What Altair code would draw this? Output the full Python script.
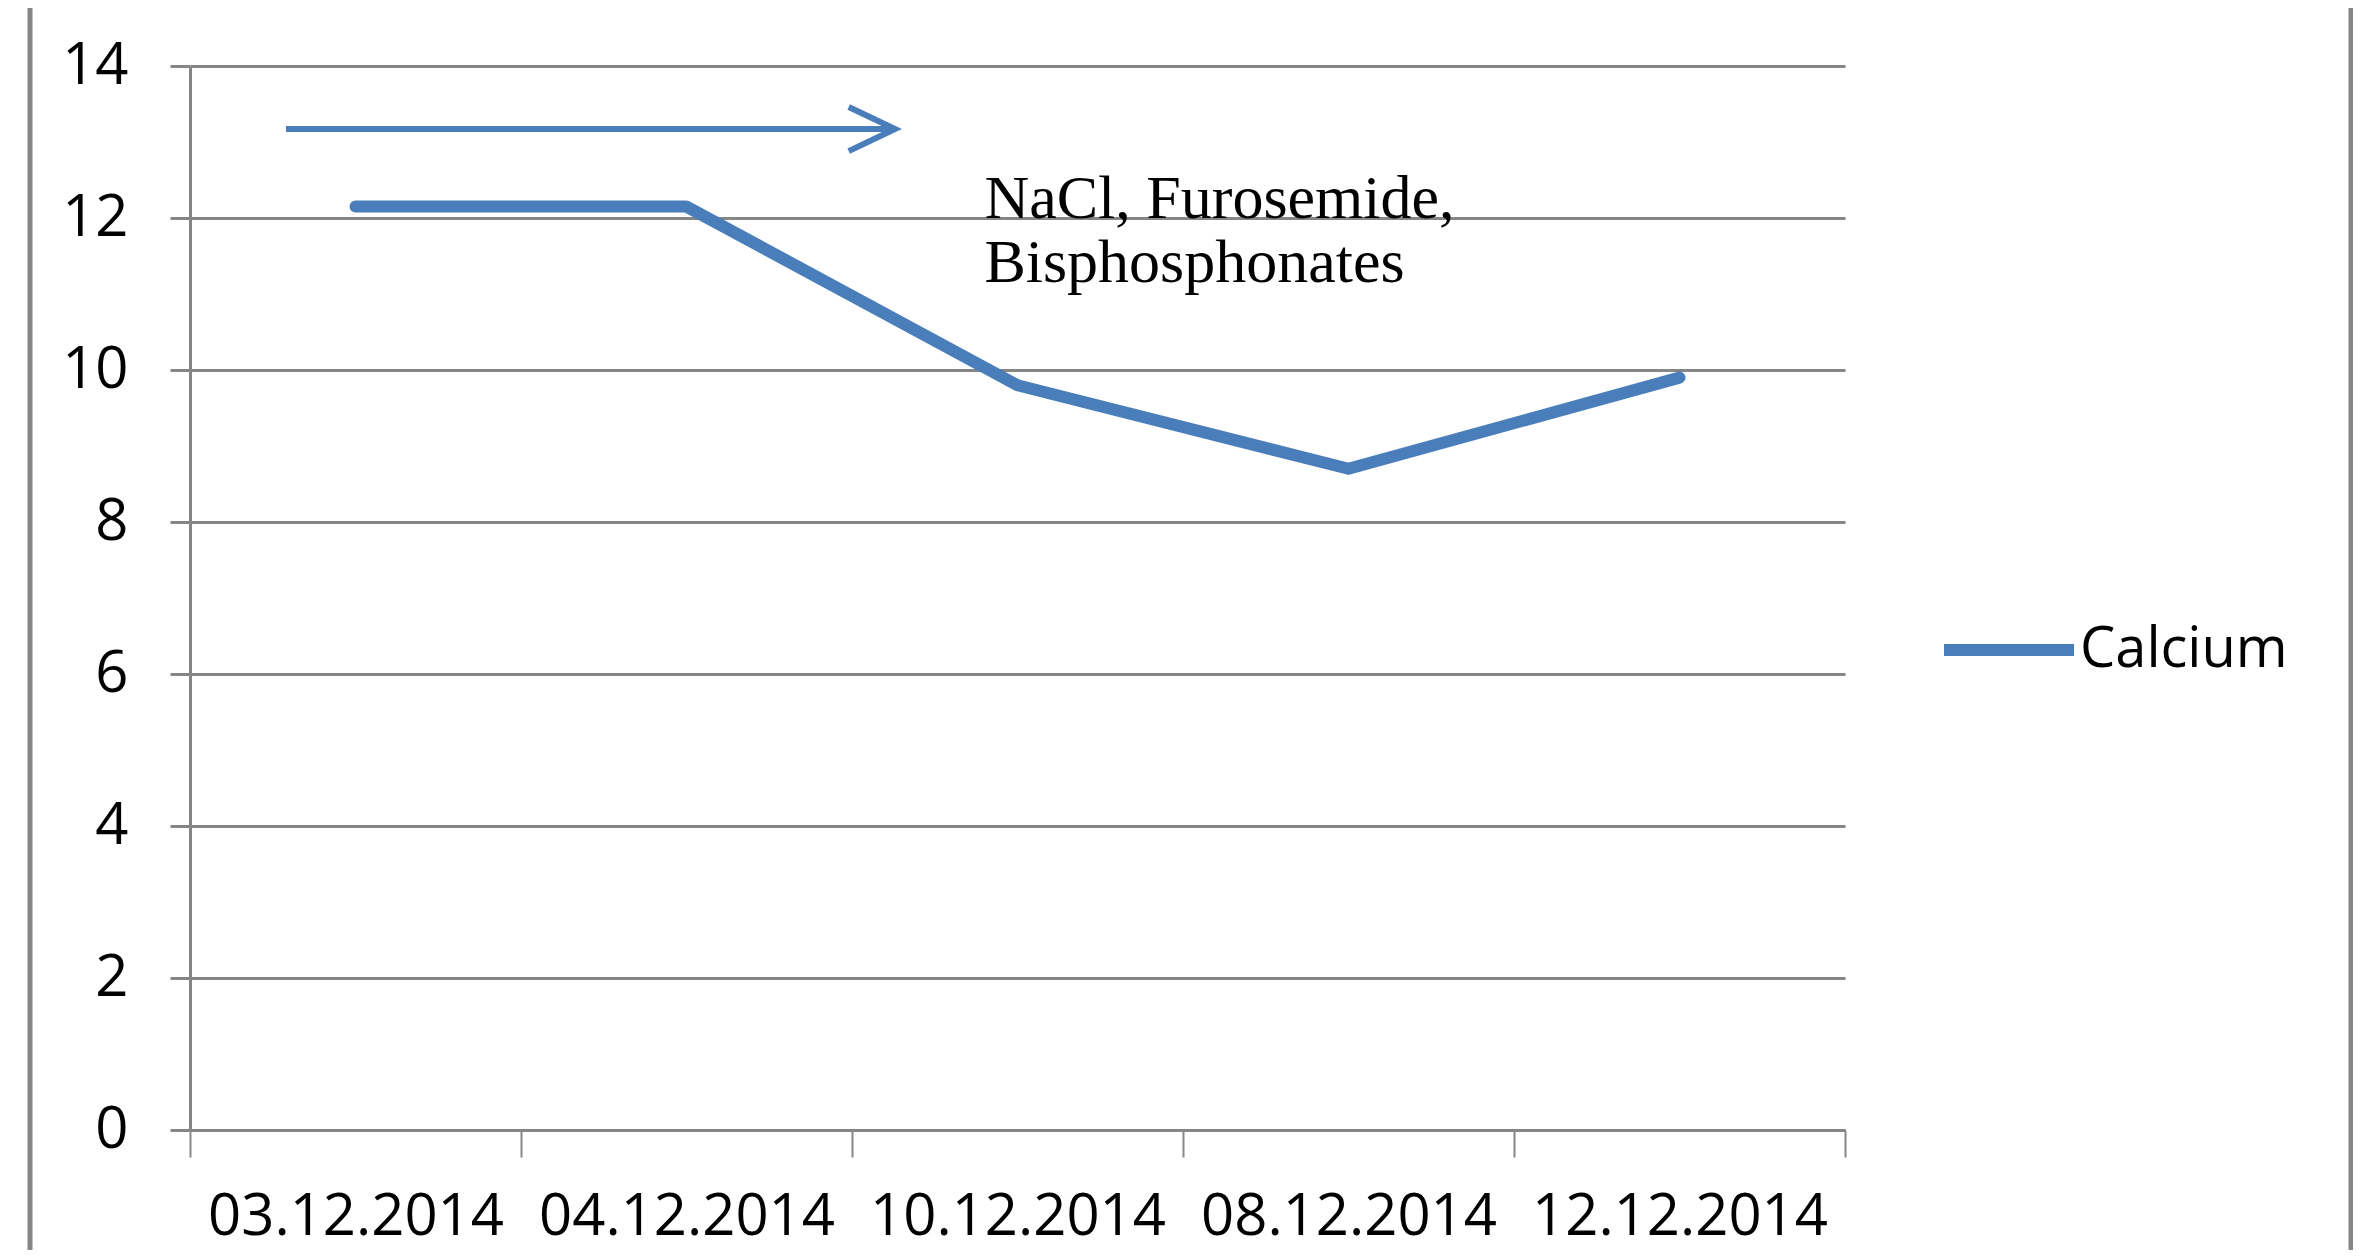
import altair as alt
import pandas as pd

# ---- data ----
dates = ["03.12.2014", "04.12.2014", "10.12.2014", "08.12.2014", "12.12.2014"]
calcium = [12.15, 12.15, 9.8, 8.7, 9.9]
series_name = "Calcium"
y_ticks = [0, 2, 4, 6, 8, 10, 12, 14]

# annotation arrow (x in category-band units, y in data units)
arrow_x = [0.29, 2.13]
arrow_y = [13.17, 13.17]
head_x = [1.99, 2.13, 1.99]
head_y = [13.46, 13.17, 12.88]

note_lines = ["NaCl, Furosemide,", "Bisphosphonates"]
note_x = [2.40]
note_y = [12.0]

BLUE = "#4A7EBB"
GRAY = "#868686"
W, H = 1655, 1064

df = pd.DataFrame({"date": dates, "value": calcium, "series": [series_name] * len(dates)})
arrow_df = pd.DataFrame({"x": arrow_x, "y": arrow_y, "o": list(range(len(arrow_x)))})
head_df = pd.DataFrame({"x": head_x, "y": head_y, "o": list(range(len(head_x)))})
note_df = pd.DataFrame({"x": note_x, "y": note_y, "t": ["\n".join(note_lines)]})
frame_df = pd.DataFrame({"k": [0]})

yscale = alt.Scale(domain=[0, 14], nice=False, zero=True)
xq = alt.Scale(domain=[0, len(dates)], nice=False, zero=False)

line = alt.Chart(df).mark_line(strokeWidth=12, strokeCap="round", strokeJoin="round").encode(
    x=alt.X(
        "date:N", sort=dates, title=None,
        scale=alt.Scale(type="band", paddingInner=0, paddingOuter=0),
        axis=alt.Axis(
            labelAngle=0, tickBand="extent", grid=False,
            domainColor=GRAY, domainWidth=3, tickColor=GRAY, tickWidth=2, tickSize=27,
            labelFont="Open Sans", labelFontSize=58, labelColor="#000000",
            labelPadding=31, labelLimit=600, labelOverlap=False,
        ),
    ),
    y=alt.Y(
        "value:Q", title=None, scale=yscale,
        axis=alt.Axis(
            values=y_ticks, format="d", grid=True, gridColor=GRAY, gridWidth=3,
            domainColor=GRAY, domainWidth=3, tickColor=GRAY, tickWidth=3, tickSize=20,
            labelFont="Open Sans", labelFontSize=58, labelColor="#000000",
            labelPadding=42,
        ),
    ),
    color=alt.Color(
        "series:N", title=None, scale=alt.Scale(range=[BLUE]),
        legend=alt.Legend(
            orient="none", legendX=1748, legendY=513, padding=0,
            symbolType="stroke", symbolSize=16900, symbolStrokeWidth=12,
            labelFont="Open Sans", labelFontSize=56, labelColor="#000000",
            labelOffset=0, labelLimit=600,
        ),
    ),
)

shaft = alt.Chart(arrow_df).mark_line(color=BLUE, strokeWidth=6).encode(
    x=alt.X("x:Q", scale=xq, axis=None), y=alt.Y("y:Q", scale=yscale), order="o:O"
)
head = alt.Chart(head_df).mark_line(color=BLUE, strokeWidth=6, strokeJoin="miter").encode(
    x=alt.X("x:Q", scale=xq, axis=None), y=alt.Y("y:Q", scale=yscale), order="o:O"
)
note = alt.Chart(note_df).mark_text(
    align="left", baseline="alphabetic", font="Liberation Serif", fontSize=62,
    lineBreak="\n", lineHeight=64, color="#000000",
).encode(x=alt.X("x:Q", scale=xq, axis=None), y=alt.Y("y:Q", scale=yscale), text="t:N")

frame_l = alt.Chart(frame_df).mark_rule(color=GRAY, strokeWidth=5).encode(
    x=alt.value(-160), y=alt.value(-58), y2=alt.value(1184)
)
frame_r = alt.Chart(frame_df).mark_rule(color=GRAY, strokeWidth=5).encode(
    x=alt.value(2161), y=alt.value(-58), y2=alt.value(1184)
)

chart = (
    alt.layer(line, shaft, head, note, frame_l, frame_r)
    .resolve_scale(x="independent")
    .properties(
        width=W, height=H,
        padding={"left": 182, "top": 58, "right": 508, "bottom": 120},
        autosize=alt.AutoSizeParams(type="none"),
        background="white",
    )
    .configure_view(stroke=None)
)

chart.save("out.html", embed_options={"renderer": "svg", "actions": False})
